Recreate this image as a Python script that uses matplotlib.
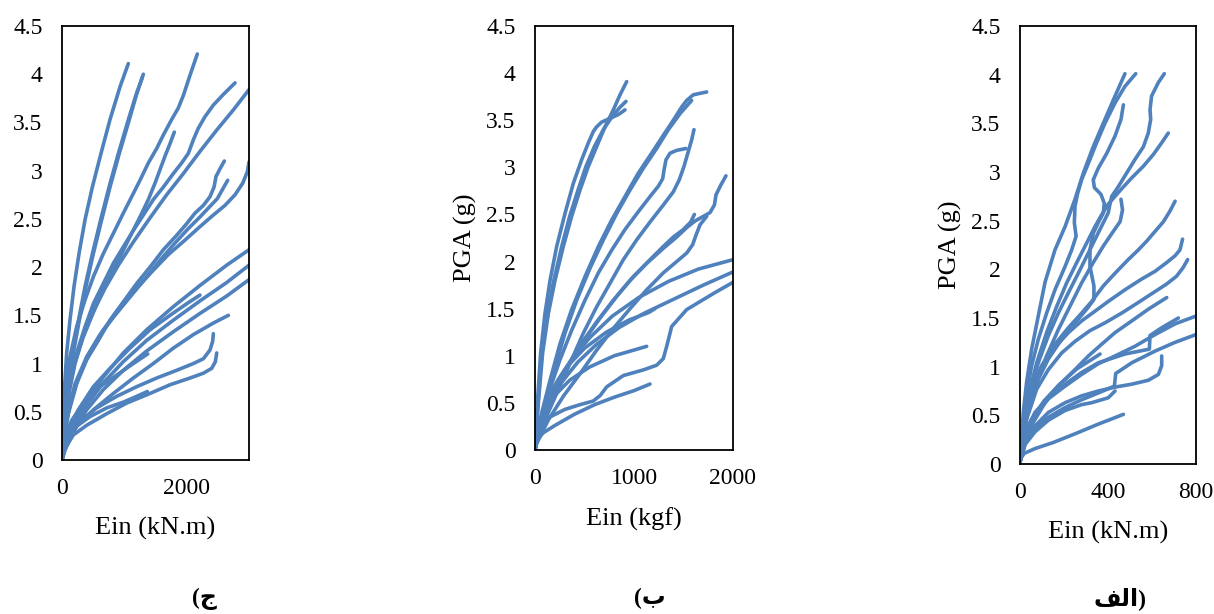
import matplotlib
matplotlib.use("Agg")
import matplotlib.pyplot as plt

# IDA curves: energy input (Ein) against PGA, one list of curves per panel
# each curve is ([Ein values], [PGA values])
curves_j = [
    ([0, 15, 40, 75, 128, 193, 273, 369, 487, 626, 770, 931, 1064],
     [0, 0.35, 0.75, 1.11, 1.45, 1.80, 2.14, 2.49, 2.83, 3.18, 3.53, 3.87, 4.11]),
    ([0, 32, 102, 182, 278, 385, 503, 636, 770, 920, 1080, 1200, 1305],
     [0, 0.41, 0.76, 1.11, 1.45, 1.80, 2.14, 2.49, 2.83, 3.18, 3.53, 3.80, 4.00]),
    ([0, 28, 95, 172, 265, 370, 488, 620, 755, 905, 1065, 1185, 1290],
     [0, 0.41, 0.76, 1.11, 1.45, 1.80, 2.14, 2.49, 2.83, 3.18, 3.53, 3.78, 3.97]),
    ([0, 48, 128, 235, 369, 503, 663, 824, 984, 1118, 1251, 1385, 1519, 1626, 1759, 1866, 1947, 2054, 2171],
     [0, 0.69, 1.07, 1.38, 1.66, 1.90, 2.14, 2.35, 2.56, 2.73, 2.90, 3.08, 3.23, 3.37, 3.53, 3.65, 3.78, 3.99, 4.21]),
    ([0, 75, 182, 316, 476, 636, 797, 957, 1118, 1251, 1385, 1492, 1572, 1652, 1733, 1802],
     [0, 0.62, 0.97, 1.24, 1.49, 1.73, 1.94, 2.14, 2.35, 2.52, 2.70, 2.87, 3.01, 3.15, 3.28, 3.40]),
    ([0, 48, 128, 235, 369, 503, 663, 824, 984, 1144, 1305, 1465, 1626, 1786, 1920, 2027, 2107, 2187, 2294, 2428, 2588, 2776],
     [0, 0.41, 0.79, 1.11, 1.38, 1.62, 1.83, 2.04, 2.21, 2.38, 2.54, 2.70, 2.83, 2.97, 3.08, 3.18, 3.32, 3.44, 3.56, 3.68, 3.79, 3.91]),
    ([0, 32, 102, 209, 342, 503, 690, 904, 1144, 1412, 1679, 1947, 2214, 2481, 2749, 3000],
     [0, 0.31, 0.66, 1.00, 1.28, 1.54, 1.78, 2.02, 2.26, 2.51, 2.75, 2.97, 3.20, 3.42, 3.63, 3.84]),
    ([0, 21, 102, 235, 396, 583, 770, 984, 1198, 1412, 1626, 1840, 2000, 2134, 2268, 2374, 2439, 2471, 2535, 2604],
     [0, 0.17, 0.48, 0.79, 1.04, 1.24, 1.45, 1.64, 1.83, 2.00, 2.18, 2.33, 2.45, 2.56, 2.64, 2.73, 2.83, 2.94, 3.02, 3.10]),
    ([0, 75, 209, 396, 610, 850, 1091, 1332, 1572, 1813, 2027, 2214, 2374, 2492, 2588, 2658],
     [0, 0.45, 0.79, 1.07, 1.30, 1.50, 1.69, 1.88, 2.07, 2.25, 2.40, 2.52, 2.63, 2.71, 2.82, 2.90]),
    ([0, 32, 118, 262, 449, 663, 904, 1171, 1439, 1706, 1973, 2214, 2428, 2615, 2776, 2899, 2974, 3000],
     [0, 0.24, 0.55, 0.86, 1.12, 1.35, 1.56, 1.76, 1.95, 2.13, 2.28, 2.42, 2.54, 2.64, 2.75, 2.87, 2.99, 3.09]),
    ([0, 48, 182, 396, 663, 984, 1358, 1786, 2214, 2642, 3000],
     [0, 0.14, 0.38, 0.62, 0.86, 1.11, 1.35, 1.59, 1.81, 2.02, 2.18]),
    ([0, 48, 182, 396, 663, 984, 1358, 1786, 2214, 2642, 3000],
     [0, 0.12, 0.34, 0.57, 0.80, 1.02, 1.24, 1.45, 1.65, 1.84, 2.02]),
    ([0, 48, 182, 396, 663, 984, 1358, 1786, 2214, 2642, 3000],
     [0, 0.10, 0.30, 0.52, 0.73, 0.93, 1.13, 1.33, 1.52, 1.70, 1.87]),
    ([0, 75, 262, 503, 770, 1091, 1412, 1733, 2000, 2214],
     [0, 0.24, 0.52, 0.76, 0.95, 1.16, 1.35, 1.50, 1.62, 1.71]),
    ([0, 48, 235, 503, 824, 1144, 1465, 1786, 2107, 2428, 2669],
     [0, 0.14, 0.35, 0.52, 0.69, 0.85, 1.00, 1.16, 1.30, 1.42, 1.50]),
    ([0, 11, 102, 289, 556, 877, 1198, 1519, 1840, 2107, 2268, 2374, 2417, 2428],
     [0, 0.07, 0.22, 0.40, 0.54, 0.66, 0.76, 0.85, 0.93, 1.00, 1.05, 1.14, 1.23, 1.31]),
    ([0, 21, 182, 396, 717, 1037, 1412, 1733, 2054, 2268, 2401, 2461, 2482],
     [0, 0.09, 0.26, 0.36, 0.48, 0.59, 0.69, 0.78, 0.85, 0.90, 0.95, 1.02, 1.11]),
    ([0, 21, 102, 235, 449, 717, 984, 1198, 1369],
     [0, 0.12, 0.24, 0.35, 0.45, 0.54, 0.60, 0.66, 0.71]),
    ([0, 32, 155, 342, 610, 877, 1144, 1375],
     [0, 0.21, 0.41, 0.59, 0.76, 0.88, 1.00, 1.10]),
]

curves_b = [
    ([0, 34, 77, 135, 202, 286, 370, 455, 539, 623, 707, 791, 859, 926],
     [0.02, 0.50, 1.03, 1.45, 1.80, 2.16, 2.48, 2.76, 3.01, 3.22, 3.43, 3.61, 3.77, 3.91]),
    ([0, 30, 70, 125, 190, 270, 350, 435, 515, 600, 690, 780, 860, 919],
     [0.02, 0.50, 1.03, 1.45, 1.80, 2.16, 2.48, 2.76, 3.01, 3.22, 3.40, 3.54, 3.64, 3.70]),
    ([0, 24, 57, 101, 152, 219, 303, 387, 471, 539, 589, 623, 673, 758, 842, 909],
     [0.02, 0.50, 1.03, 1.45, 1.80, 2.16, 2.51, 2.83, 3.08, 3.26, 3.38, 3.43, 3.48, 3.52, 3.56, 3.61]),
    ([0, 10, 67, 152, 253, 370, 505, 640, 774, 909, 1044, 1178, 1296, 1397, 1481, 1532, 1599, 1734],
     [0, 0.07, 0.39, 0.74, 1.13, 1.49, 1.84, 2.16, 2.44, 2.69, 2.94, 3.15, 3.34, 3.50, 3.64, 3.71, 3.77, 3.80]),
    ([0, 17, 101, 202, 303, 421, 556, 690, 825, 960, 1094, 1229, 1347, 1465, 1582],
     [0, 0.11, 0.50, 0.88, 1.24, 1.59, 1.93, 2.23, 2.51, 2.76, 2.99, 3.20, 3.40, 3.57, 3.71]),
    ([0, 10, 101, 219, 354, 488, 623, 758, 892, 1027, 1162, 1296, 1397, 1458, 1505, 1549, 1582, 1606],
     [0, 0.05, 0.32, 0.60, 0.92, 1.24, 1.52, 1.77, 2.02, 2.23, 2.42, 2.60, 2.74, 2.87, 3.01, 3.17, 3.29, 3.40]),
    ([0, 51, 135, 253, 370, 505, 640, 774, 909, 1044, 1162, 1246, 1290, 1303, 1323, 1364, 1431, 1525],
     [0.04, 0.28, 0.60, 0.96, 1.27, 1.59, 1.88, 2.12, 2.34, 2.53, 2.69, 2.80, 2.88, 2.97, 3.08, 3.15, 3.18, 3.20]),
    ([0, 51, 152, 286, 455, 623, 791, 960, 1128, 1296, 1431, 1532, 1616, 1684, 1768, 1812, 1829, 1876, 1929],
     [0.02, 0.21, 0.50, 0.81, 1.11, 1.36, 1.59, 1.80, 1.98, 2.14, 2.26, 2.36, 2.43, 2.47, 2.52, 2.60, 2.71, 2.81, 2.91]),
    ([0, 67, 185, 320, 488, 657, 825, 993, 1162, 1296, 1397, 1498, 1573, 1610],
     [0.04, 0.27, 0.57, 0.87, 1.15, 1.40, 1.63, 1.84, 2.02, 2.16, 2.26, 2.34, 2.42, 2.50]),
    ([0, 17, 135, 286, 455, 623, 791, 960, 1128, 1296, 1431, 1532, 1593, 1626, 1667, 1734],
     [0, 0.07, 0.32, 0.57, 0.81, 1.06, 1.29, 1.50, 1.70, 1.88, 2.00, 2.09, 2.18, 2.28, 2.39, 2.48]),
    ([0, 20, 60, 130, 230, 380, 560, 780, 1050, 1350, 1650, 2000],
     [0, 0.15, 0.32, 0.52, 0.74, 0.98, 1.20, 1.42, 1.62, 1.79, 1.92, 2.02]),
    ([0, 25, 70, 150, 270, 430, 620, 850, 1100, 1400, 1700, 2000],
     [0, 0.13, 0.30, 0.50, 0.72, 0.93, 1.12, 1.30, 1.45, 1.60, 1.75, 1.89]),
    ([0, 15, 60, 150, 300, 450, 589, 660, 724, 892, 1094, 1229, 1296, 1330, 1364, 1380, 1532, 1801, 2000],
     [0, 0.12, 0.25, 0.35, 0.43, 0.48, 0.52, 0.58, 0.67, 0.79, 0.85, 0.90, 0.97, 1.10, 1.24, 1.31, 1.49, 1.66, 1.78]),
    ([0, 25, 90, 200, 350, 550, 800, 1128],
     [0, 0.20, 0.40, 0.58, 0.74, 0.88, 1.00, 1.10]),
    ([0, 20, 80, 200, 400, 600, 800, 1000, 1162],
     [0, 0.10, 0.18, 0.26, 0.38, 0.48, 0.56, 0.63, 0.70]),
    ([0, 20, 80, 180, 320, 500, 720, 950, 1150, 1212],
     [0, 0.20, 0.42, 0.65, 0.88, 1.08, 1.25, 1.38, 1.46, 1.50]),
]

curves_alef = [
    ([0, 15, 30, 53, 83, 114, 159, 205, 250, 288, 333, 386, 432, 477],
     [0.02, 0.53, 0.84, 1.18, 1.52, 1.87, 2.20, 2.44, 2.72, 2.99, 3.26, 3.54, 3.78, 4.01]),
    ([0, 23, 53, 83, 121, 159, 205, 235, 255, 247, 250, 262, 280, 311, 348, 386, 432, 477, 526],
     [0.02, 0.63, 1.01, 1.28, 1.55, 1.79, 2.03, 2.20, 2.34, 2.48, 2.65, 2.78, 2.92, 3.09, 3.30, 3.50, 3.71, 3.88, 4.01]),
    ([0, 15, 45, 83, 129, 189, 250, 303, 336, 336, 318, 318, 333, 356, 379, 383, 368, 338, 333, 356, 394, 432, 459, 470],
     [0.02, 0.32, 0.63, 0.87, 1.08, 1.28, 1.45, 1.59, 1.69, 1.83, 2.03, 2.20, 2.37, 2.48, 2.58, 2.68, 2.77, 2.84, 2.92, 3.04, 3.19, 3.37, 3.54, 3.69]),
    ([0, 15, 45, 83, 129, 174, 220, 265, 311, 348, 401, 409, 417, 447, 485, 523, 561, 583, 594, 591, 598, 629, 656],
     [0.02, 0.36, 0.73, 1.04, 1.32, 1.55, 1.76, 1.96, 2.17, 2.34, 2.58, 2.67, 2.75, 2.85, 2.99, 3.13, 3.26, 3.40, 3.54, 3.64, 3.78, 3.92, 4.01]),
    ([0, 8, 38, 76, 121, 167, 212, 258, 303, 341, 371, 401, 432, 459, 508, 561, 606, 644, 674],
     [0.02, 0.26, 0.70, 1.04, 1.35, 1.62, 1.86, 2.07, 2.27, 2.44, 2.56, 2.67, 2.75, 2.82, 2.94, 3.06, 3.18, 3.30, 3.40]),
    ([0, 8, 38, 76, 121, 174, 227, 280, 333, 379, 424, 455, 466, 459],
     [0.02, 0.22, 0.56, 0.84, 1.11, 1.38, 1.62, 1.86, 2.07, 2.24, 2.39, 2.49, 2.61, 2.72]),
    ([0, 15, 53, 98, 159, 220, 280, 326, 379, 432, 492, 538, 576, 614, 652, 682, 705],
     [0.02, 0.43, 0.77, 1.01, 1.23, 1.40, 1.55, 1.67, 1.83, 1.96, 2.10, 2.20, 2.29, 2.39, 2.49, 2.60, 2.70]),
    ([0, 23, 61, 106, 159, 220, 280, 341, 401, 477, 553, 614, 667, 705, 727, 739],
     [0.02, 0.46, 0.77, 1.01, 1.20, 1.35, 1.47, 1.57, 1.67, 1.79, 1.90, 1.98, 2.07, 2.14, 2.20, 2.31]),
    ([0, 30, 76, 129, 189, 250, 318, 386, 462, 538, 606, 667, 712, 742, 762],
     [0.02, 0.46, 0.77, 0.97, 1.14, 1.26, 1.37, 1.45, 1.55, 1.66, 1.76, 1.85, 1.93, 2.02, 2.10]),
    ([0, 23, 61, 114, 174, 250, 311, 371, 432, 508, 583, 667],
     [0.02, 0.22, 0.43, 0.63, 0.80, 0.97, 1.11, 1.23, 1.35, 1.47, 1.59, 1.71]),
    ([0, 5, 23, 68, 129, 205, 280, 356, 432, 523, 614, 705, 800],
     [0.02, 0.09, 0.29, 0.50, 0.67, 0.80, 0.92, 1.03, 1.11, 1.21, 1.33, 1.44, 1.52]),
    ([0, 23, 68, 129, 205, 280, 356, 429, 435, 508, 614, 705, 800],
     [0.02, 0.21, 0.36, 0.48, 0.58, 0.66, 0.73, 0.80, 0.93, 1.04, 1.16, 1.25, 1.33]),
    ([0, 5, 23, 68, 129, 205, 280, 356, 477, 588, 591, 644, 720],
     [0.02, 0.12, 0.32, 0.53, 0.68, 0.82, 0.94, 1.04, 1.13, 1.18, 1.32, 1.40, 1.50]),
    ([0, 23, 68, 129, 205, 280, 356, 432, 508, 583, 629, 644, 644],
     [0.02, 0.22, 0.39, 0.53, 0.63, 0.70, 0.75, 0.79, 0.82, 0.86, 0.92, 1.01, 1.11]),
    ([0, 20, 70, 150, 250, 356, 470],
     [0.05, 0.11, 0.16, 0.22, 0.31, 0.41, 0.51]),
    ([0, 15, 50, 110, 180, 260, 330, 364],
     [0.02, 0.25, 0.45, 0.65, 0.82, 0.98, 1.08, 1.13]),
    ([0, 23, 68, 129, 205, 280, 326, 401, 432],
     [0.02, 0.20, 0.33, 0.45, 0.55, 0.61, 0.63, 0.68, 0.75]),
]

pga_ticks = [0, 0.5, 1, 1.5, 2, 2.5, 3, 3.5, 4, 4.5]
pga_labels = ["0", "0.5", "1", "1.5", "2", "2.5", "3", "3.5", "4", "4.5"]

xlabel_j = "Ein (kN.m)"
xlabel_b = "Ein (kgf)"
xlabel_alef = "Ein (kN.m)"
ylabel = "PGA (g)"

# captions are written in visual order (presentation forms, left to right)
caption_j = "(\uFE9D"
caption_b = "(\uFE8F"
caption_alef = "\uFED2\uFEDF\uFE8D)"

line_color = "#4f81bd"
serif = "Liberation Serif"

fig = plt.figure(figsize=(12.14, 6.14), dpi=100)


def draw_panel(rect, curves, xmax, xticks, xlabel, xlabel_y, ylabel_x=None):
    ax = fig.add_axes(rect)
    for ein, pga in curves:
        ax.plot(ein, pga, color=line_color, lw=2.6,
                solid_joinstyle="round", solid_capstyle="round")
    ax.set_xlim(0, xmax)
    ax.set_ylim(0, 4.5)
    ax.set_xticks(xticks)
    ax.set_xticklabels([str(t) for t in xticks])
    ax.set_yticks(pga_ticks)
    ax.set_yticklabels(pga_labels)
    ax.tick_params(axis="both", length=0, labelsize=17)
    ax.tick_params(axis="y", pad=14)
    ax.tick_params(axis="x", pad=13)
    for lab in ax.get_xticklabels() + ax.get_yticklabels():
        lab.set_fontfamily(serif)
    for sp in ax.spines.values():
        sp.set_linewidth(1.3)
        sp.set_color("black")
    ax.set_xlabel(xlabel, fontsize=19, fontfamily=serif)
    ax.xaxis.set_label_coords(0.5, xlabel_y)
    ax.xaxis.label.set_verticalalignment("top")
    if ylabel_x is not None:
        ax.set_ylabel(ylabel, fontsize=19, fontfamily=serif)
        ax.yaxis.set_label_coords(ylabel_x, 0.5)
    return ax


draw_panel([62 / 1214, 1 - 460 / 614, 187 / 1214, 434 / 614],
           curves_j, 3000, [0, 2000], xlabel_j, -0.131)
draw_panel([535 / 1214, 1 - 450 / 614, 198 / 1214, 424 / 614],
           curves_b, 2000, [0, 1000, 2000], xlabel_b, -0.137, -0.293)
draw_panel([1020 / 1214, 1 - 464 / 614, 176 / 1214, 438 / 614],
           curves_alef, 800, [0, 400, 800], xlabel_alef, -0.130, -0.331)

cap_font = dict(fontsize=17, fontweight="bold", family=[serif, "DejaVu Sans"],
                ha="center", va="center")
fig.text(204 / 1214, 1 - 599 / 614, caption_j, **cap_font)
fig.text(650 / 1214, 1 - 598 / 614, caption_b, **cap_font)
fig.text(1120 / 1214, 1 - 599 / 614, caption_alef, **cap_font)

fig.savefig("out.png", dpi=100)
